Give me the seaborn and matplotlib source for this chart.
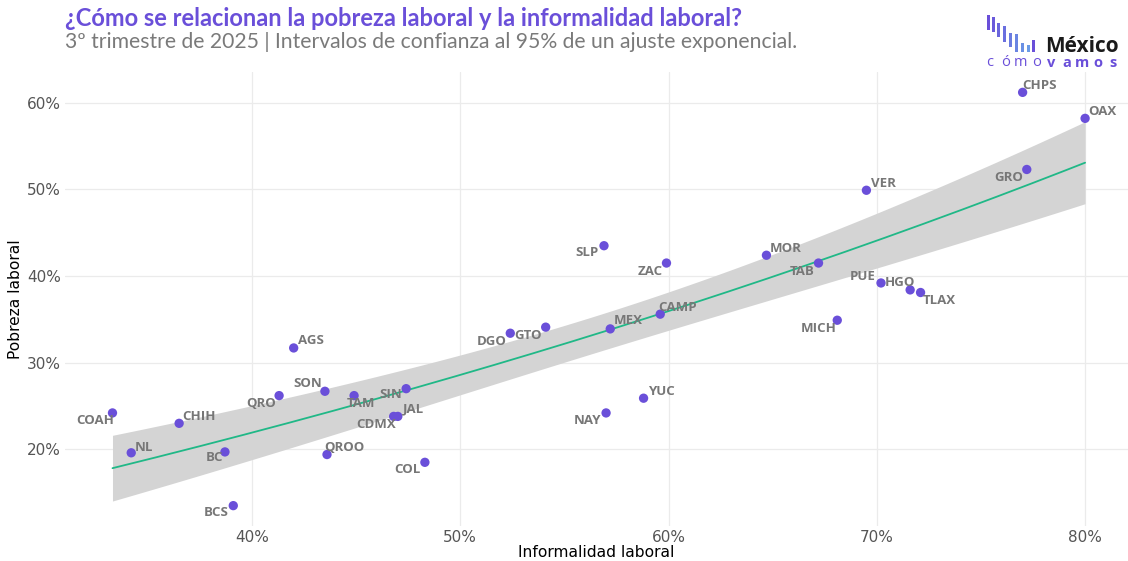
import matplotlib
matplotlib.use("Agg")
import matplotlib.pyplot as plt
import numpy as np
import pandas as pd
import seaborn as sns
from matplotlib.patches import Rectangle

# --------------------------------------------------------------------------- #
# Data (percent): informalidad laboral vs pobreza laboral, 3T-2025
# --------------------------------------------------------------------------- #
estados = ["COAH", "NL", "CHIH", "BC", "BCS", "QRO", "AGS", "SON", "QROO",
           "TAM", "SIN", "CDMX", "JAL", "COL", "DGO", "GTO", "SLP", "NAY",
           "MEX", "YUC", "ZAC", "CAMP", "MOR", "TAB", "MICH", "VER", "PUE",
           "HGO", "TLAX", "CHPS", "GRO", "OAX"]
informalidad = [33.3, 34.2, 36.5, 38.7, 39.1, 41.3, 42.0, 43.5, 43.6,
                44.9, 47.4, 46.8, 47.0, 48.3, 52.4, 54.1, 56.9, 57.0,
                57.2, 58.8, 59.9, 59.6, 64.7, 67.2, 68.1, 69.5, 70.2,
                71.6, 72.1, 77.0, 77.2, 80.0]
pobreza = [24.2, 19.6, 23.0, 19.7, 13.5, 26.2, 31.7, 26.7, 19.4,
           26.2, 27.0, 23.8, 23.8, 18.5, 33.4, 34.1, 43.5, 24.2,
           33.9, 25.9, 41.5, 35.6, 42.4, 41.5, 34.9, 49.9, 39.2,
           38.4, 38.1, 61.2, 52.3, 58.2]

# label placement (pixel offset from the point, horizontal alignment)
label_pos = {
    "COAH": (2, -8, "right"), "NL": (4, 5, "left"), "CHIH": (3, 7, "left"),
    "BC": (-2, -6, "right"), "BCS": (-5, -7, "right"), "QRO": (-3, -8, "right"),
    "AGS": (4, 7, "left"), "SON": (-3, 8, "right"), "QROO": (-3, 7, "left"),
    "TAM": (-7, -8, "left"), "SIN": (-4, -6, "right"), "CDMX": (2, -8, "right"),
    "JAL": (5, 7, "left"), "COL": (-4, -7, "right"), "DGO": (-4, -8, "right"),
    "GTO": (-4, -8, "right"), "SLP": (-5, -7, "right"), "NAY": (-5, -8, "right"),
    "MEX": (4, 8, "left"), "YUC": (4, 7, "left"), "ZAC": (-4, -8, "right"),
    "CAMP": (-2, 7, "left"), "MOR": (3, 7, "left"), "TAB": (-4, -8, "right"),
    "MICH": (-1, -8, "right"), "VER": (5, 7, "left"), "PUE": (-5, 6, "right"),
    "HGO": (-25, 7, "left"), "TLAX": (2, -8, "left"), "CHPS": (0, 7, "left"),
    "GRO": (-4, -8, "right"), "OAX": (3, 7, "left"),
}

PURPLE = "#6A4FD9"
GREEN = "#20B887"

df = pd.DataFrame({"estado": estados, "informalidad": informalidad,
                   "pobreza": pobreza})

# --------------------------------------------------------------------------- #
# Exponential fit: pobreza ~ a + b*exp(informalidad), 95% CI of the mean
# --------------------------------------------------------------------------- #
x = df["informalidad"].to_numpy()
y = df["pobreza"].to_numpy()
z = np.exp(x / 100)
n = len(z)
b, a = np.polyfit(z, y, 1)
resid = y - (a + b * z)
s = np.sqrt(resid @ resid / (n - 2))
sxx = ((z - z.mean()) ** 2).sum()

grid = np.linspace(x.min(), x.max(), 200)
zg = np.exp(grid / 100)
yhat = a + b * zg
se = s * np.sqrt(1 / n + (zg - z.mean()) ** 2 / sxx)
t95 = 2.042
lo, hi = yhat - t95 * se, yhat + t95 * se

# --------------------------------------------------------------------------- #
# Plot
# --------------------------------------------------------------------------- #
sns.set_theme(style="whitegrid")
plt.rcParams["font.family"] = ["DejaVu Sans"]

fig = plt.figure(figsize=(11.28, 5.61), dpi=100)
ax = fig.add_axes([65 / 1128, 1 - 526 / 561, 1 - 65 / 1128, (526 - 72) / 561])

ax.fill_between(grid, lo, hi, color="#d4d4d4", lw=0, zorder=1)
sns.lineplot(x=grid, y=yhat, ax=ax, color=GREEN, lw=1.3, zorder=2)
sns.scatterplot(data=df, x="informalidad", y="pobreza", ax=ax, color=PURPLE,
                s=45, edgecolor="none", zorder=3)

for est, xi, yi in zip(estados, informalidad, pobreza):
    dx, dy, ha = label_pos[est]
    ax.annotate(est, (xi, yi), xytext=(dx * 0.72, dy * 0.72),
                textcoords="offset points", ha=ha, va="center",
                fontsize=9.5, fontweight="bold", color="#777777",
                family=["Open Sans", "DejaVu Sans"], zorder=4)

ax.set_xlim(31.02, 82.06)
ax.set_ylim(11.15, 63.55)
ax.set_xticks([40, 50, 60, 70, 80])
ax.set_yticks([20, 30, 40, 50, 60])
ax.xaxis.set_major_formatter(lambda v, _: f"{v:.0f}%")
ax.yaxis.set_major_formatter(lambda v, _: f"{v:.0f}%")
ax.tick_params(axis="both", length=0, labelsize=11, labelcolor="#555555", pad=3)
ax.grid(True, color="#ebebeb", lw=0.9)
for sp in ax.spines.values():
    sp.set_visible(False)
ax.set_facecolor("white")
ax.set_xlabel("Informalidad laboral", fontsize=11.2, color="black", labelpad=0)
ax.set_ylabel("Pobreza laboral", fontsize=11.2, color="black", labelpad=3)

# titles
fig.text(65 / 1128, 1 - 18 / 561,
         "¿Cómo se relacionan la pobreza laboral y la informalidad laboral?",
         fontsize=17, fontweight="bold", color=PURPLE, va="center",
         family=["Lato", "DejaVu Sans"])
fig.text(65 / 1128, 1 - 42 / 561,
         "3º trimestre de 2025 | Intervalos de confianza al 95% de un ajuste exponencial.",
         fontsize=15.2, color="#7a7a7a", va="center",
         family=["Lato", "DejaVu Sans"])

# logo "México cómo vamos"
bar_x = [987, 992, 997, 1003, 1009, 1015, 1021, 1027, 1032]
bar_top = [15, 17, 23, 26, 33, 34, 43, 45, 40]
bar_bot = [30, 32, 37, 42, 47, 52, 52, 52, 52]
bar_colors = sns.blend_palette(["#6A4FD9", "#6A9BE6"], 8) + ["#6A4FD9"]
for bx, bt, bb, c in zip(bar_x, bar_top, bar_bot, bar_colors):
    fig.add_artist(Rectangle((bx / 1128, 1 - bb / 561), 3.2 / 1128,
                             (bb - bt) / 561, transform=fig.transFigure,
                             color=c, lw=0))
fig.text(1119 / 1128, 1 - 46 / 561, "México", fontsize=15, fontweight="bold",
         color="#1a1a1a", ha="right", va="center",
         family=["Open Sans", "DejaVu Sans"])
logo_letters = list("cómovamos")
for i, ch in enumerate(logo_letters):
    fig.text((990 + i * 15.4) / 1128, 1 - 63 / 561, ch, fontsize=10.5,
             color=PURPLE, ha="center", va="center",
             fontweight="bold" if i >= 4 else "normal",
             family=["Open Sans", "DejaVu Sans"])

fig.savefig("out.png", dpi=100, facecolor="white")
